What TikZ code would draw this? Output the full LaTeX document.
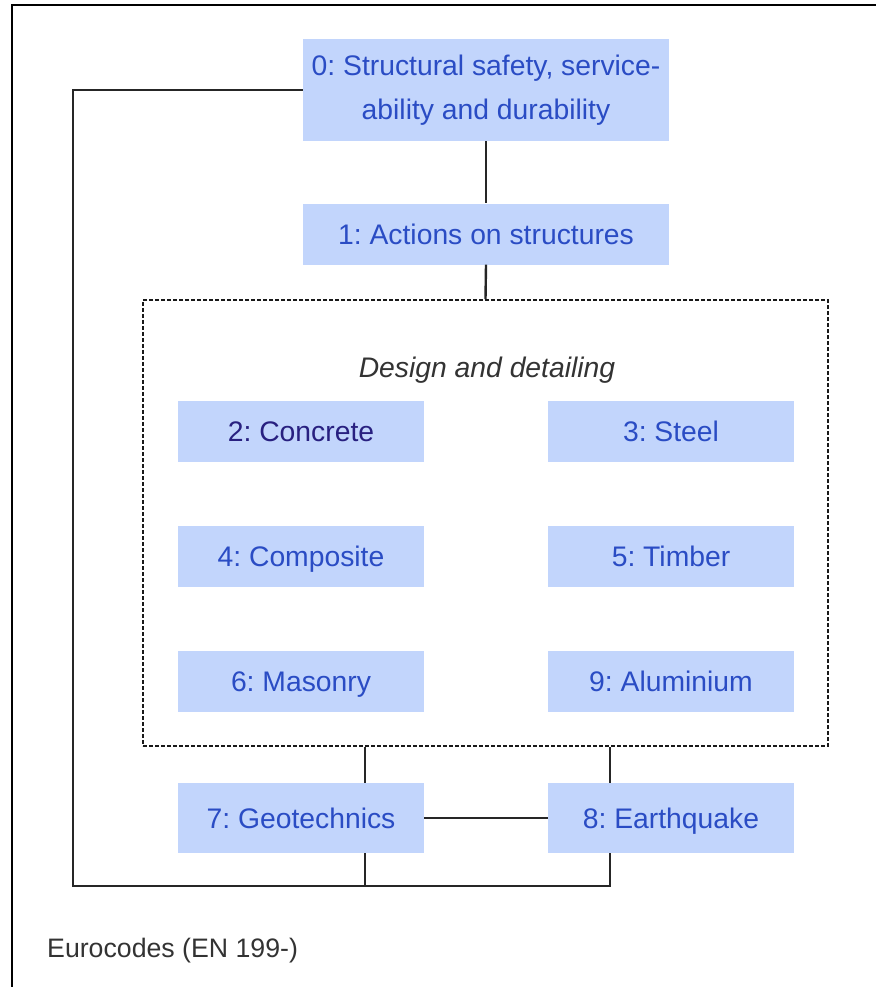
\documentclass[tikz,border=0pt]{standalone}
\usepackage{fontspec}
\setmainfont{Liberation Sans}
\definecolor{boxfill}{RGB}{194,213,252}
\definecolor{boxtext}{RGB}{42,76,196}
\definecolor{boxdark}{RGB}{40,32,128}
\definecolor{graytext}{RGB}{51,51,51}
\begin{document}
\frenchspacing
\begin{tikzpicture}[x=1pt,y=-1pt,
  box/.style={fill=boxfill, text=boxtext, inner sep=0pt, minimum width=246pt, minimum height=61pt,
    font=\fontsize{28.3}{44}\selectfont, align=center, text height=20pt, text depth=0pt},
  conn/.style={draw=black!85, line width=2.4pt},
  ddbox/.style={draw=black!90, line width=1.8pt, dash pattern=on 4pt off 2pt, inner sep=0pt,
    minimum width=685pt, minimum height=446pt}]
\useasboundingbox (0,0) rectangle (875,987);
\draw[line width=2.8pt] (12,995) -- (12,5) -- (885,5);
% top boxes
\node[box, minimum width=366pt, minimum height=102pt, text height=, text depth=] (n0) at (486,90) {0: Structural safety, service-\\ability and durability};
\node[box, minimum width=366pt] (n1) at (486,234) {1: Actions on structures};
% design and detailing frame
\node[ddbox] (dd) at (485.5,523) {};
\node[anchor=base, text=graytext, font=\fontsize{28.3}{34}\selectfont\itshape] (ddl) at (487,377) {Design and detailing};
\node[box, text=boxdark] (n2) at (301,431) {2: Concrete};
\node[box] (n3) at (671,431) {3: Steel};
\node[box] (n4) at (301,556) {4: Composite};
\node[box] (n5) at (671,556) {5: Timber};
\node[box] (n6) at (301,681) {6: Masonry};
\node[box] (n9) at (671,681) {9: Aluminium};
% bottom boxes
\node[box, minimum height=70pt] (n7) at (301,818) {7: Geotechnics};
\node[box, minimum height=70pt] (n8) at (671,818) {8: Earthquake};
% connectors
\coordinate (lc) at (73,886);
\coordinate (rc) at (610,886);
\draw[conn] (n0.south) -- (n1.north);
\draw[conn] (n1.south) -- (dd.north);
\draw[conn] ([xshift=64pt]n7.north) -- ([xshift=64pt]n7.north |- dd.south);
\draw[conn] ([xshift=-61pt]n8.north) -- ([xshift=-61pt]n8.north |- dd.south);
\draw[conn] (n7.east) -- (n8.west);
\draw[conn] (n0.west) -| (lc) -- (rc) -- ([xshift=-61pt]n8.south);
\draw[conn] ([xshift=64pt]n7.south) -- ([xshift=64pt]n7.south |- lc);
% footer
\node[anchor=base west, text=graytext, font=\fontsize{26.7}{32}\selectfont, inner sep=0pt] (foot) at (47,957) {Eurocodes (EN 199-)};
\end{tikzpicture}
\end{document}
